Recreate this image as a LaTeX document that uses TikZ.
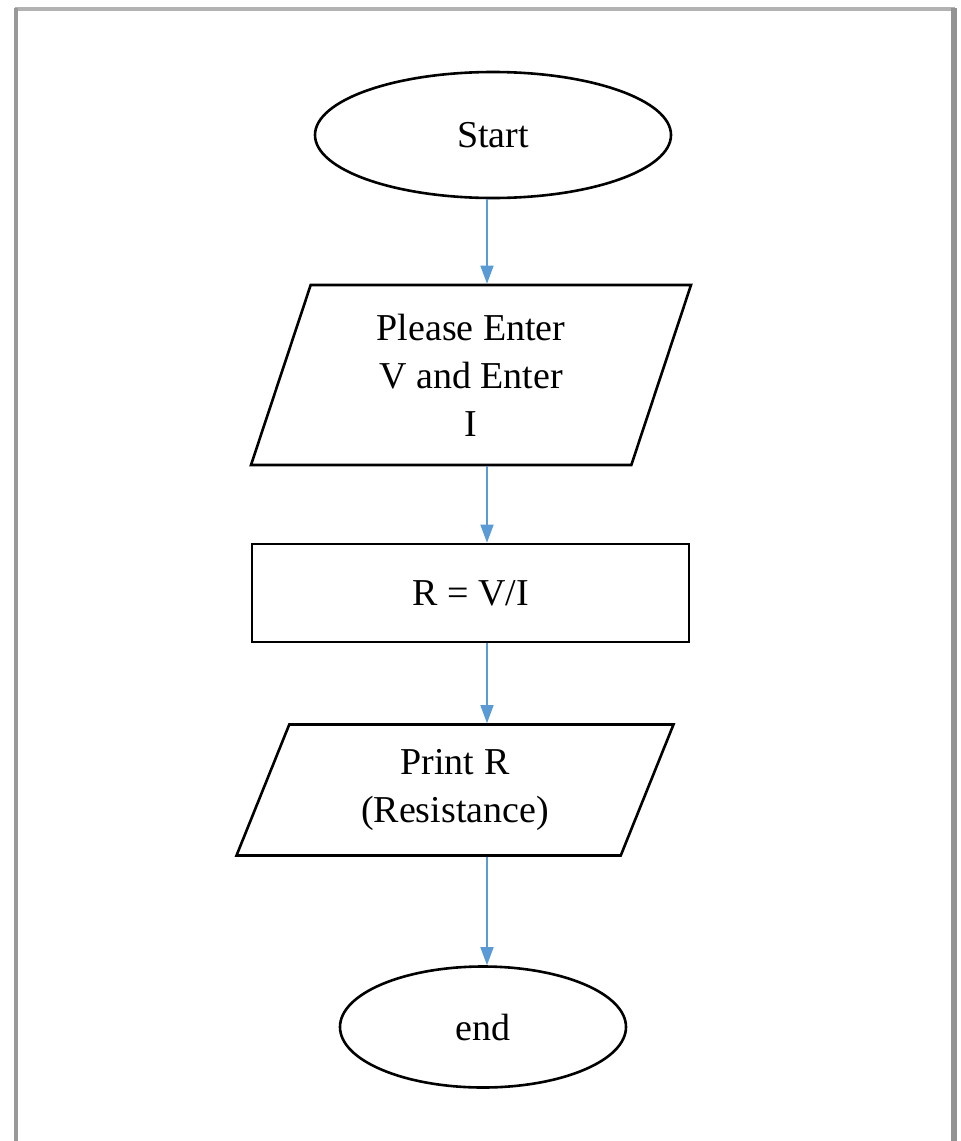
\documentclass[tikz,border=0pt]{standalone}
\usepackage{fontspec}
\setmainfont{Liberation Serif}
\usetikzlibrary{shapes.geometric,arrows.meta}
\definecolor{linkblue}{HTML}{5B9BD5}
\tikzset{
    term/.style={draw,ellipse,line width=1.3pt,inner sep=0pt},
    inout/.style={draw,trapezium,trapezium stretches body,line width=1.3pt,inner sep=0pt,align=center},
    proc/.style={draw,rectangle,line width=1.3pt,inner sep=0pt,align=center},
    link/.style={-{Triangle[length=9pt,width=6.5pt]},linkblue,line width=0.8pt}
}
\begin{document}
\begin{tikzpicture}[x=0.5pt,y=-0.5pt,font=\fontsize{19}{24}\selectfont]
            \useasboundingbox (0,0) rectangle (961,1141);
            \draw[gray!60,line width=1.6pt] (15,9)--(955,9);
            \draw[gray!80,line width=1.8pt] (16,8)--(16,1141);
            \draw[gray!85,line width=3pt] (954,8)--(954,1141);
            \node[term,minimum width=178pt,minimum height=63pt] (start) at (493,135) {Start};
            \node[inout,minimum width=220pt,minimum height=90pt,trapezium left angle=64,trapezium right angle=116] (input) at (471,375) {Please Enter\\V and Enter\\I};
            \node[proc,minimum width=218.5pt,minimum height=49pt] (calc) at (470.5,593) {R = V/I};
            \node[inout,minimum width=218.5pt,minimum height=65.5pt,trapezium left angle=57,trapezium right angle=123] (print) at (455,790) {Print R\\(Resistance)};
            \node[term,minimum width=143pt,minimum height=60.5pt] (stop) at (483,1027) {end};
            \coordinate (axis) at (487,0);
            \draw[link] (axis|-start.south)--(axis|-input.north);
            \draw[link] (axis|-input.south)--(axis|-calc.north);
            \draw[link] (axis|-calc.south)--(axis|-print.north);
            \draw[link] (axis|-print.south)--(axis|-stop.north);
        \end{tikzpicture}
\end{document}
